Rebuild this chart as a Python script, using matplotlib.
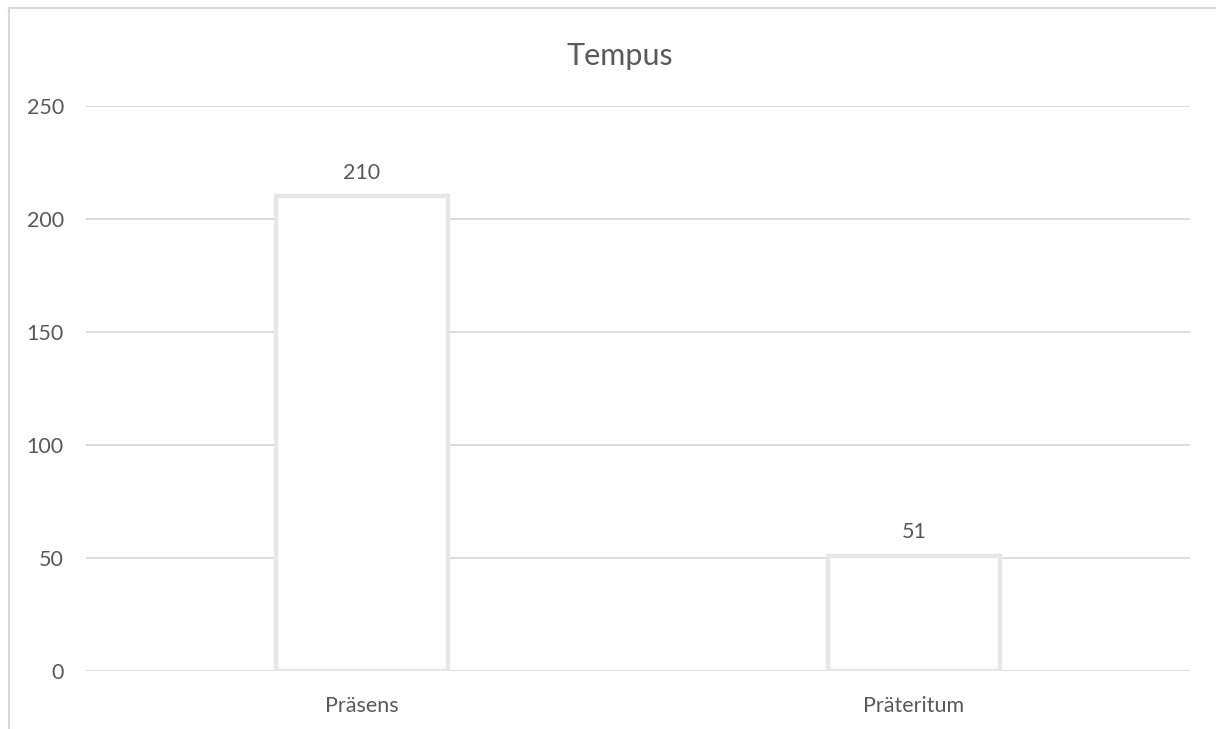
import matplotlib
matplotlib.use("Agg")
import matplotlib.pyplot as plt
from matplotlib.lines import Line2D

categories = ["Präsens", "Präteritum"]
values = [210, 51]
y_ticks = [0, 50, 100, 150, 200, 250]
title = "Tempus"

text_color = "#595959"
grid_color = "#d9d9d9"
edge_color = "#e7e7e7"

plt.rcParams["font.family"] = ["Lato", "DejaVu Sans"]

W, H = 1216, 729
fig = plt.figure(figsize=(W / 100, H / 100), dpi=100)
fig.patch.set_facecolor("white")

# plot area in pixel coordinates
left, right, top, bottom = 86, 1190, 106, 671
ax = fig.add_axes([left / W, 1 - bottom / H, (right - left) / W, (bottom - top) / H])

label_size = 15.5

x = list(range(len(categories)))
ax.bar(x, values, width=0.313, color="white", edgecolor=edge_color, linewidth=3.2, zorder=3)
for xi, v in zip(x, values):
    ax.annotate(str(v), (xi, v), xytext=(0, 10), textcoords="offset points",
                ha="center", va="bottom", fontsize=label_size, color=text_color)

ax.set_xlim(-0.5, len(categories) - 0.5)
ax.set_ylim(0, 250)
ax.set_yticks(y_ticks)
ax.set_xticks(x)
ax.set_xticklabels(categories)
ax.tick_params(axis="both", length=0, labelsize=label_size, labelcolor=text_color)
ax.tick_params(axis="y", pad=16)
ax.tick_params(axis="x", pad=18)
ax.yaxis.grid(True, color=grid_color, linewidth=1.3, zorder=0)
ax.set_axisbelow(True)
for s in ax.spines.values():
    s.set_visible(False)
ax.set_facecolor("none")

fig.text(620 / W, 1 - 56 / H, title, ha="center", va="center", fontsize=22, color=text_color)

# chart frame (top and left edges visible)
fig.add_artist(Line2D([9 / W, 1.0], [1 - 8 / H, 1 - 8 / H], transform=fig.transFigure,
                      color=grid_color, linewidth=1.5))
fig.add_artist(Line2D([9 / W, 9 / W], [1 - 8 / H, 0.0], transform=fig.transFigure,
                      color=grid_color, linewidth=1.5))

fig.savefig("out.png", dpi=100, facecolor="white")
